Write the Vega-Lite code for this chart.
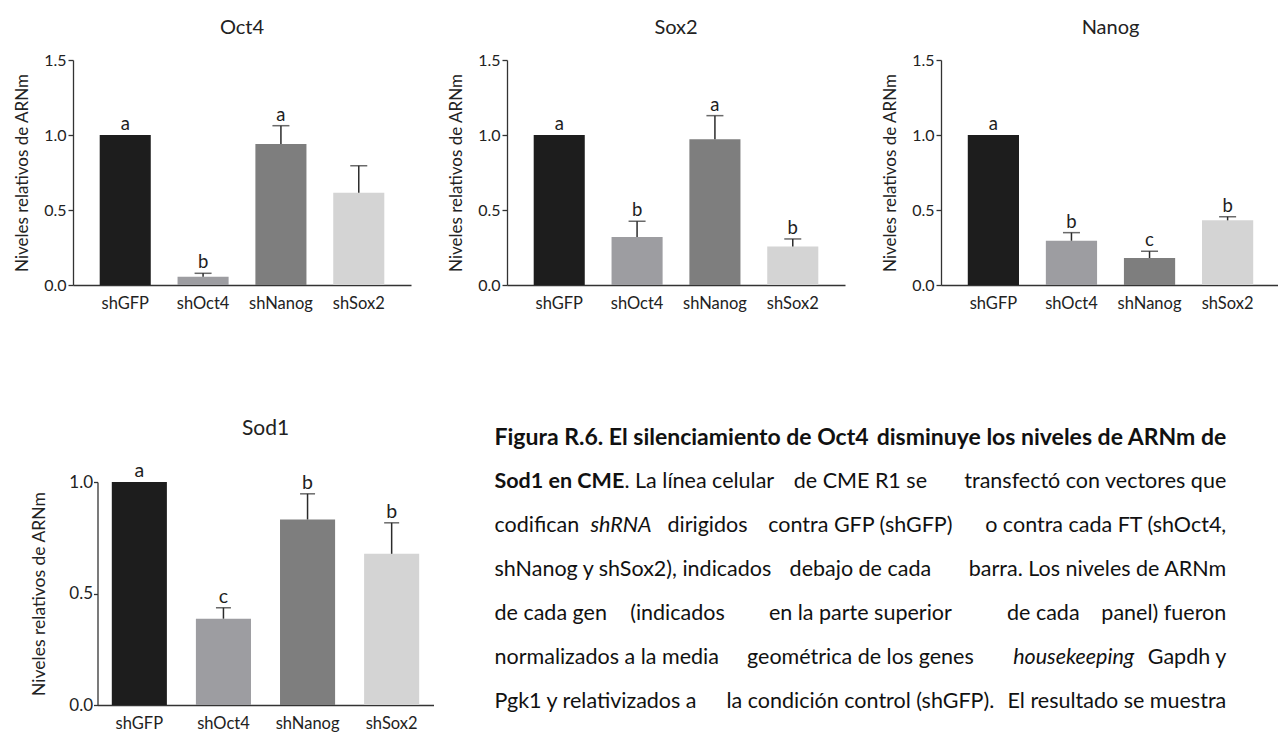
{
  "$schema": "https://vega.github.io/schema/vega-lite/v6.json",
  "padding": {"left": 13, "top": 18, "right": 0, "bottom": 0},
  "background": "white",
  "config": {
    "font": "Lato",
    "view": {"stroke": null},
    "title": {"font": "Lato", "fontSize": 20, "fontWeight": "normal", "color": "#222222", "anchor": "middle"},
    "axis": {"grid": false, "domainColor": "#333333", "domainWidth": 1.3, "tickColor": "#333333", "tickWidth": 1.3, "labelColor": "#222222", "titleColor": "#222222", "labelFont": "Lato", "titleFont": "Lato", "labelFontSize": 16, "titleFontSize": 17, "titleFontWeight": "normal"},
    "axisY": {"tickSize": 5, "labelPadding": 2, "titlePadding": 12},
    "axisX": {"ticks": false, "labelAngle": 0, "labelPadding": 10, "labelFontSize": 16.5},
    "text": {"font": "Lato", "color": "#1e1e1e"}
  },
  "datasets": {
    "bars": [
      {"gene": "Oct4", "sh": "shGFP", "val": 1.0, "up": 1.0, "letter": "a"},
      {"gene": "Oct4", "sh": "shOct4", "val": 0.055, "up": 0.078, "letter": "b"},
      {"gene": "Oct4", "sh": "shNanog", "val": 0.94, "up": 1.062, "letter": "a"},
      {"gene": "Oct4", "sh": "shSox2", "val": 0.615, "up": 0.795, "letter": ""},
      {"gene": "Sox2", "sh": "shGFP", "val": 1.0, "up": 1.0, "letter": "a"},
      {"gene": "Sox2", "sh": "shOct4", "val": 0.32, "up": 0.425, "letter": "b"},
      {"gene": "Sox2", "sh": "shNanog", "val": 0.971, "up": 1.129, "letter": "a"},
      {"gene": "Sox2", "sh": "shSox2", "val": 0.256, "up": 0.307, "letter": "b"},
      {"gene": "Nanog", "sh": "shGFP", "val": 1.0, "up": 1.0, "letter": "a"},
      {"gene": "Nanog", "sh": "shOct4", "val": 0.295, "up": 0.349, "letter": "b"},
      {"gene": "Nanog", "sh": "shNanog", "val": 0.18, "up": 0.225, "letter": "c"},
      {"gene": "Nanog", "sh": "shSox2", "val": 0.431, "up": 0.455, "letter": "b"},
      {"gene": "Sod1", "sh": "shGFP", "val": 1.0, "up": 1.0, "letter": "a"},
      {"gene": "Sod1", "sh": "shOct4", "val": 0.387, "up": 0.436, "letter": "c"},
      {"gene": "Sod1", "sh": "shNanog", "val": 0.832, "up": 0.947, "letter": "b"},
      {"gene": "Sod1", "sh": "shSox2", "val": 0.678, "up": 0.817, "letter": "b"}
    ],
    "capTitleLeft": [{"line": 1, "text": "Figura R.6. El silenciamiento de Oct4"}],
    "capTitleRight": [{"line": 1, "text": "disminuye los niveles de ARNm de"}],
    "capBoldLeft": [{"line": 2, "text": "Sod1 en CME"}],
    "capAfterBold": [{"line": 2, "text": ". La línea celular"}],
    "capLeft": [
      {"line": 3, "text": "codifican"},
      {"line": 4, "text": "shNanog y shSox2), indicados"},
      {"line": 5, "text": "de cada gen"},
      {"line": 6, "text": "normalizados a la media"},
      {"line": 7, "text": "Pgk1 y relativizados a"}
    ],
    "capQ1": [{"line": 5, "text": "(indicados"}],
    "capItalicLeft": [{"line": 3, "text": "shRNA"}],
    "capAfterItalic": [{"line": 3, "text": "dirigidos"}],
    "capMid": [
      {"line": 2, "text": "de CME R1 se"},
      {"line": 3, "text": "contra GFP (shGFP)"},
      {"line": 4, "text": "debajo de cada"},
      {"line": 5, "text": "en la parte superior"},
      {"line": 6, "text": "geométrica de los genes"},
      {"line": 7, "text": "la condición control (shGFP)."}
    ],
    "capQ3": [{"line": 5, "text": "de cada"}],
    "capItalicRight": [{"line": 6, "text": "housekeeping"}],
    "capRight": [
      {"line": 2, "text": "transfectó con vectores que"},
      {"line": 3, "text": "o contra cada FT (shOct4,"},
      {"line": 4, "text": "barra. Los niveles de ARNm"},
      {"line": 5, "text": "panel) fueron"},
      {"line": 6, "text": "Gapdh y"},
      {"line": 7, "text": "El resultado se muestra"}
    ]
  },
  "spacing": 106,
  "center": true,
  "bounds": "full",
  "vconcat": [
    {
      "bounds": "flush",
      "spacing": 96,
      "hconcat": [
        {
          "width": 338, "height": 225,
          "title": {"text": "Oct4", "offset": 14},
          "data": {"name": "bars"},
          "transform": [{"filter": "datum.gene === 'Oct4'"}],
          "encoding": {"x": {"field": "sh", "type": "nominal", "sort": ["shGFP", "shOct4", "shNanog", "shSox2"], "scale": {"paddingInner": 0.344, "paddingOuter": 0.343}, "axis": {"title": null}}},
          "layer": [
            {"mark": {"type": "bar"}, "encoding": {"y": {"field": "val", "type": "quantitative", "scale": {"domain": [0, 1.5], "nice": false}, "axis": {"title": "Niveles relativos de ARNm", "values": [0, 0.5, 1, 1.5], "format": ".1f"}}, "color": {"field": "sh", "type": "nominal", "scale": {"domain": ["shGFP", "shOct4", "shNanog", "shSox2"], "range": ["#1d1d1d", "#9d9da1", "#7e7e7e", "#d4d4d4"]}, "legend": null}}},
            {"transform": [{"filter": "datum.up > datum.val"}], "mark": {"type": "rule", "color": "#2b2b2b", "strokeWidth": 1.5}, "encoding": {"y": {"field": "val", "type": "quantitative"}, "y2": {"field": "up"}}},
            {"transform": [{"filter": "datum.up > datum.val"}], "mark": {"type": "tick", "color": "#2b2b2b", "thickness": 1.5, "size": 17}, "encoding": {"y": {"field": "up", "type": "quantitative"}}},
            {"transform": [{"filter": "datum.letter !== ''"}], "mark": {"type": "text", "baseline": "alphabetic", "dy": -5, "fontSize": 18.5}, "encoding": {"y": {"field": "up", "type": "quantitative"}, "text": {"field": "letter"}}}
          ]
        },
        {
          "width": 338, "height": 225,
          "title": {"text": "Sox2", "offset": 14},
          "data": {"name": "bars"},
          "transform": [{"filter": "datum.gene === 'Sox2'"}],
          "encoding": {"x": {"field": "sh", "type": "nominal", "sort": ["shGFP", "shOct4", "shNanog", "shSox2"], "scale": {"paddingInner": 0.344, "paddingOuter": 0.343}, "axis": {"title": null}}},
          "layer": [
            {"mark": {"type": "bar"}, "encoding": {"y": {"field": "val", "type": "quantitative", "scale": {"domain": [0, 1.5], "nice": false}, "axis": {"title": "Niveles relativos de ARNm", "values": [0, 0.5, 1, 1.5], "format": ".1f"}}, "color": {"field": "sh", "type": "nominal", "scale": {"domain": ["shGFP", "shOct4", "shNanog", "shSox2"], "range": ["#1d1d1d", "#9d9da1", "#7e7e7e", "#d4d4d4"]}, "legend": null}}},
            {"transform": [{"filter": "datum.up > datum.val"}], "mark": {"type": "rule", "color": "#2b2b2b", "strokeWidth": 1.5}, "encoding": {"y": {"field": "val", "type": "quantitative"}, "y2": {"field": "up"}}},
            {"transform": [{"filter": "datum.up > datum.val"}], "mark": {"type": "tick", "color": "#2b2b2b", "thickness": 1.5, "size": 17}, "encoding": {"y": {"field": "up", "type": "quantitative"}}},
            {"transform": [{"filter": "datum.letter !== ''"}], "mark": {"type": "text", "baseline": "alphabetic", "dy": -5, "fontSize": 18.5}, "encoding": {"y": {"field": "up", "type": "quantitative"}, "text": {"field": "letter"}}}
          ]
        },
        {
          "width": 339, "height": 225,
          "title": {"text": "Nanog", "offset": 14},
          "data": {"name": "bars"},
          "transform": [{"filter": "datum.gene === 'Nanog'"}],
          "encoding": {"x": {"field": "sh", "type": "nominal", "sort": ["shGFP", "shOct4", "shNanog", "shSox2"], "scale": {"paddingInner": 0.344, "paddingOuter": 0.343}, "axis": {"title": null}}},
          "layer": [
            {"mark": {"type": "bar"}, "encoding": {"y": {"field": "val", "type": "quantitative", "scale": {"domain": [0, 1.5], "nice": false}, "axis": {"title": "Niveles relativos de ARNm", "values": [0, 0.5, 1, 1.5], "format": ".1f"}}, "color": {"field": "sh", "type": "nominal", "scale": {"domain": ["shGFP", "shOct4", "shNanog", "shSox2"], "range": ["#1d1d1d", "#9d9da1", "#7e7e7e", "#d4d4d4"]}, "legend": null}}},
            {"transform": [{"filter": "datum.up > datum.val"}], "mark": {"type": "rule", "color": "#2b2b2b", "strokeWidth": 1.5}, "encoding": {"y": {"field": "val", "type": "quantitative"}, "y2": {"field": "up"}}},
            {"transform": [{"filter": "datum.up > datum.val"}], "mark": {"type": "tick", "color": "#2b2b2b", "thickness": 1.5, "size": 17}, "encoding": {"y": {"field": "up", "type": "quantitative"}}},
            {"transform": [{"filter": "datum.letter !== ''"}], "mark": {"type": "text", "baseline": "alphabetic", "dy": -5, "fontSize": 18.5}, "encoding": {"y": {"field": "up", "type": "quantitative"}, "text": {"field": "letter"}}}
          ]
        }
      ]
    },
    {
      "bounds": "full",
      "spacing": 61,
      "hconcat": [
        {
          "width": 336, "height": 223,
          "title": {"text": "Sod1", "offset": 22, "fontSize": 21},
          "data": {"name": "bars"},
          "transform": [{"filter": "datum.gene === 'Sod1'"}],
          "encoding": {"x": {"field": "sh", "type": "nominal", "sort": ["shGFP", "shOct4", "shNanog", "shSox2"], "scale": {"paddingInner": 0.345, "paddingOuter": 0.17}, "axis": {"title": null, "labelPadding": 10}}},
          "layer": [
            {"mark": {"type": "bar"}, "encoding": {"y": {"field": "val", "type": "quantitative", "scale": {"domain": [0, 1], "nice": false}, "axis": {"title": "Niveles relativos de ARNm", "values": [0, 0.5, 1], "format": ".1f", "tickSize": 4, "labelPadding": 1, "labelFontSize": 17, "titleFontSize": 17.5, "titlePadding": 20}}, "color": {"field": "sh", "type": "nominal", "scale": {"domain": ["shGFP", "shOct4", "shNanog", "shSox2"], "range": ["#1d1d1d", "#9d9da1", "#7e7e7e", "#d4d4d4"]}, "legend": null}}},
            {"transform": [{"filter": "datum.up > datum.val"}], "mark": {"type": "rule", "color": "#2b2b2b", "strokeWidth": 1.5}, "encoding": {"y": {"field": "val", "type": "quantitative"}, "y2": {"field": "up"}}},
            {"transform": [{"filter": "datum.up > datum.val"}], "mark": {"type": "tick", "color": "#2b2b2b", "thickness": 1.5, "size": 15}, "encoding": {"y": {"field": "up", "type": "quantitative"}}},
            {"transform": [{"filter": "datum.letter !== ''"}], "mark": {"type": "text", "baseline": "alphabetic", "dy": -5, "fontSize": 19.5}, "encoding": {"y": {"field": "up", "type": "quantitative"}, "text": {"field": "letter"}}}
          ]
        },
        {
          "width": 761, "height": 223,
          "encoding": {
            "y": {"field": "line", "type": "ordinal", "scale": {"type": "point", "domain": [1, 2, 3, 4, 5, 6, 7], "range": [-44, 220], "padding": 0}, "axis": null},
            "text": {"field": "text"}
          },
          "layer": [
            {"data": {"name": "capTitleLeft"}, "mark": {"type": "text", "align": "left", "baseline": "middle", "fontSize": 23, "fontWeight": "bold", "color": "#111111"}, "encoding": {"x": {"datum": 0, "type": "quantitative", "scale": {"domain": [0, 1.04], "nice": false, "zero": false}, "axis": null}}},
            {"data": {"name": "capTitleRight"}, "mark": {"type": "text", "align": "right", "baseline": "middle", "fontSize": 23, "fontWeight": "bold", "color": "#111111"}, "encoding": {"x": {"datum": 1, "type": "quantitative", "axis": null}}},
            {"data": {"name": "capBoldLeft"}, "mark": {"type": "text", "align": "left", "baseline": "middle", "fontSize": 21.5, "fontWeight": "bold", "color": "#111111"}, "encoding": {"x": {"datum": 0, "type": "quantitative", "axis": null}}},
            {"data": {"name": "capAfterBold"}, "mark": {"type": "text", "align": "left", "baseline": "middle", "fontSize": 21.5, "dx": 130, "color": "#111111"}, "encoding": {"x": {"datum": 0, "type": "quantitative", "axis": null}}},
            {"data": {"name": "capLeft"}, "mark": {"type": "text", "align": "left", "baseline": "middle", "fontSize": 21.5, "color": "#111111"}, "encoding": {"x": {"datum": 0, "type": "quantitative", "axis": null}}},
            {"data": {"name": "capQ1"}, "mark": {"type": "text", "align": "center", "baseline": "middle", "fontSize": 21.5, "color": "#111111"}, "encoding": {"x": {"datum": 0.25, "type": "quantitative", "axis": null}}},
            {"data": {"name": "capItalicLeft"}, "mark": {"type": "text", "align": "left", "baseline": "middle", "fontSize": 21.5, "fontStyle": "italic", "dx": 96, "color": "#111111"}, "encoding": {"x": {"datum": 0, "type": "quantitative", "axis": null}}},
            {"data": {"name": "capAfterItalic"}, "mark": {"type": "text", "align": "left", "baseline": "middle", "fontSize": 21.5, "dx": 173, "color": "#111111"}, "encoding": {"x": {"datum": 0, "type": "quantitative", "axis": null}}},
            {"data": {"name": "capMid"}, "mark": {"type": "text", "align": "center", "baseline": "middle", "fontSize": 21.5, "color": "#111111"}, "encoding": {"x": {"datum": 0.5, "type": "quantitative", "axis": null}}},
            {"data": {"name": "capQ3"}, "mark": {"type": "text", "align": "center", "baseline": "middle", "fontSize": 21.5, "color": "#111111"}, "encoding": {"x": {"datum": 0.75, "type": "quantitative", "axis": null}}},
            {"data": {"name": "capItalicRight"}, "mark": {"type": "text", "align": "right", "baseline": "middle", "fontSize": 21.5, "fontStyle": "italic", "dx": -92, "color": "#111111"}, "encoding": {"x": {"datum": 1, "type": "quantitative", "axis": null}}},
            {"data": {"name": "capRight"}, "mark": {"type": "text", "align": "right", "baseline": "middle", "fontSize": 21.5, "color": "#111111"}, "encoding": {"x": {"datum": 1, "type": "quantitative", "axis": null}}}
          ]
        }
      ]
    }
  ]
}
